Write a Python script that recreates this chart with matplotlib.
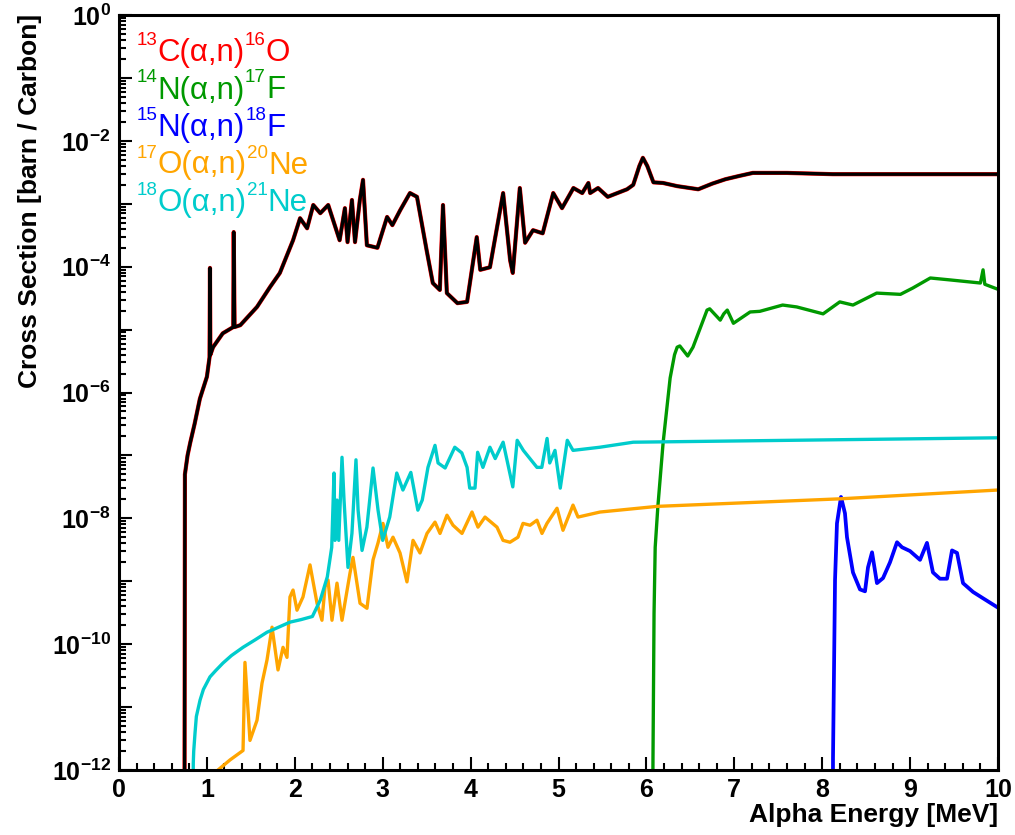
import numpy as np
import matplotlib
matplotlib.use("Agg")
import matplotlib.pyplot as plt
from matplotlib.ticker import LogLocator, FixedLocator, MultipleLocator, NullFormatter, FuncFormatter

plt.rcParams['font.family'] = ['Liberation Sans', 'DejaVu Sans']
plt.rcParams['mathtext.fontset'] = 'custom'
plt.rcParams['mathtext.rm'] = 'Liberation Sans'
plt.rcParams['mathtext.it'] = 'Liberation Sans:italic'
plt.rcParams['mathtext.bf'] = 'Liberation Sans:bold'

# ---------------- data (energy in MeV, log10 of cross section in barn/Carbon) ----------------
c13_e = [0.745, 0.75, 0.78, 0.81, 0.86, 0.92, 1.00, 1.03, 1.035, 1.04, 1.07, 1.18, 1.30, 1.305, 1.315,
         1.38, 1.57, 1.72, 1.83, 1.98, 2.06, 2.14, 2.21, 2.29, 2.38, 2.51, 2.57, 2.60, 2.65, 2.685,
         2.74, 2.776, 2.82, 2.94, 3.05, 3.11, 3.20, 3.31, 3.39, 3.50, 3.57, 3.65, 3.686, 3.73, 3.85,
         3.96, 4.07, 4.11, 4.22, 4.37, 4.45, 4.48, 4.56, 4.62, 4.71, 4.82, 4.94, 5.04, 5.17, 5.27,
         5.34, 5.36, 5.45, 5.56, 5.78, 5.85, 5.92, 5.96, 6.01, 6.08, 6.19, 6.35, 6.59, 6.75, 6.9,
         7.05, 7.21, 7.6, 8.12, 10.0]
c13_logxs = [-13.0, -7.3, -7.0, -6.8, -6.5, -6.1, -5.75, -5.44, -4.02, -5.4, -5.28, -5.06, -4.96, -3.45, -4.96,
             -4.93, -4.64, -4.32, -4.10, -3.58, -3.23, -3.39, -3.02, -3.15, -3.02, -3.58, -3.07, -3.61, -2.94, -3.61,
             -2.94, -2.62, -3.66, -3.70, -3.21, -3.34, -3.10, -2.83, -2.89, -3.74, -4.26, -4.37, -3.02, -4.42, -4.58,
             -4.56, -3.53, -4.05, -4.01, -2.83, -3.90, -4.10, -2.75, -3.62, -3.42, -3.47, -2.83, -3.07, -2.75, -2.83,
             -2.67, -2.83, -2.75, -2.89, -2.77, -2.70, -2.40, -2.27, -2.40, -2.66, -2.67, -2.72, -2.77, -2.68, -2.61,
             -2.56, -2.51, -2.51, -2.53, -2.53]

n14_e = [6.07, 6.075, 6.087, 6.10, 6.13, 6.19, 6.27, 6.32, 6.35, 6.38, 6.47, 6.53, 6.69, 6.72, 6.84,
         6.88, 6.92, 6.99, 7.18, 7.29, 7.55, 7.71, 8.01, 8.20, 8.35, 8.62, 8.89, 9.03, 9.23, 9.45,
         9.80, 9.83, 9.85, 10.0]
n14_logxs = [-13.0, -11.8, -9.51, -8.46, -7.82, -6.80, -5.77, -5.40, -5.28, -5.26, -5.42, -5.28, -4.69, -4.67, -4.85,
             -4.75, -4.69, -4.90, -4.72, -4.71, -4.61, -4.64, -4.75, -4.56, -4.61, -4.42, -4.44, -4.34, -4.18, -4.21,
             -4.26, -4.05, -4.28, -4.36]

n15_e = [8.12, 8.123, 8.146, 8.168, 8.214, 8.259, 8.282, 8.35, 8.43, 8.487, 8.521, 8.567, 8.623, 8.692,
         8.771, 8.851, 8.908, 8.999, 9.113, 9.192, 9.26, 9.34, 9.42, 9.477, 9.534, 9.602, 9.716, 9.829, 10.0]
n15_logxs = [-13.0, -11.8, -8.98, -8.08, -7.66, -7.92, -8.30, -8.86, -9.13, -9.16, -8.78, -8.54, -9.03, -8.95,
             -8.70, -8.38, -8.46, -8.52, -8.66, -8.39, -8.86, -8.96, -8.96, -8.51, -8.55, -9.03, -9.17, -9.27, -9.42]

o17_e = [1.10, 1.126, 1.263, 1.411, 1.433, 1.49, 1.57, 1.627, 1.684, 1.741, 1.809, 1.866, 1.911, 1.945, 1.98,
         2.025, 2.093, 2.173, 2.253, 2.309, 2.344, 2.378, 2.423, 2.48, 2.537, 2.628, 2.662, 2.742, 2.821, 2.89,
         2.947, 3.003, 3.06, 3.117, 3.197, 3.276, 3.345, 3.424, 3.504, 3.595, 3.652, 3.731, 3.80, 3.902, 4.016,
         4.084, 4.164, 4.30, 4.369, 4.448, 4.539, 4.596, 4.676, 4.755, 4.812, 4.869, 4.983, 5.051, 5.165, 5.222,
         5.472, 6.121, 8.203, 10.0]
o17_logxs = [-12.3, -12.0, -11.84, -11.69, -10.29, -11.53, -11.21, -10.62, -10.25, -9.73, -10.41, -10.05, -10.21, -9.25, -9.14,
             -9.46, -9.25, -8.74, -9.35, -9.62, -9.09, -8.98, -9.62, -9.03, -9.62, -8.87, -8.62, -9.35, -9.43, -8.66,
             -8.39, -8.08, -8.46, -8.30, -8.55, -9.01, -8.35, -8.55, -8.24, -8.06, -8.24, -7.95, -8.11, -8.24, -7.90,
             -8.14, -7.98, -8.14, -8.35, -8.38, -8.30, -8.08, -8.11, -8.03, -8.24, -8.08, -7.84, -8.19, -7.79, -7.98,
             -7.90, -7.81, -7.69, -7.55]

o18_e = [0.84, 0.845, 0.85, 0.865, 0.88, 0.922, 0.96, 1.035, 1.1, 1.183, 1.28, 1.411, 1.55, 1.684, 1.8,
         1.945, 2.07, 2.20, 2.29, 2.37, 2.42, 2.446, 2.457,
         2.48, 2.50, 2.537, 2.56, 2.605, 2.65, 2.696, 2.72, 2.765, 2.82, 2.89, 2.947, 3.00, 3.08, 3.16,
         3.23, 3.32, 3.40, 3.45, 3.515, 3.595, 3.63, 3.71, 3.82, 3.90, 3.96, 3.99, 4.05, 4.08, 4.14,
         4.22, 4.28, 4.37, 4.48, 4.53, 4.60, 4.755, 4.81, 4.87, 4.90, 4.96, 5.02, 5.10, 5.165, 5.47,
         5.85, 10.0]
o18_logxs = [-13.0, -11.89, -11.7, -11.41, -11.15, -10.89, -10.72, -10.52, -10.42, -10.30, -10.18, -10.05, -9.93, -9.81, -9.74,
             -9.65, -9.61, -9.56, -9.30, -8.93, -8.46, -7.28, -8.35,
             -7.71, -8.35, -7.03, -7.71, -8.78, -8.24, -7.07, -7.87, -8.51, -8.14, -7.20, -7.87, -8.35, -7.98, -7.28,
             -7.55, -7.27, -7.87, -7.71, -7.19, -6.84, -7.12, -7.20, -6.87, -6.96, -7.19, -7.52, -7.52, -6.95, -7.19,
             -6.87, -7.05, -6.79, -7.50, -6.76, -6.92, -7.19, -7.19, -6.73, -7.12, -6.92, -7.52, -6.76, -6.92, -6.87,
             -6.79, -6.72]

# legend labels: (text, is_superscript) pieces
legend_parts = [
    [("13", True), ("C(α,n)", False), ("16", True), ("O", False)],
    [("14", True), ("N(α,n)", False), ("17", True), ("F", False)],
    [("15", True), ("N(α,n)", False), ("18", True), ("F", False)],
    [("17", True), ("O(α,n)", False), ("20", True), ("Ne", False)],
    [("18", True), ("O(α,n)", False), ("21", True), ("Ne", False)],
]
legend_colors = ["#ff0000", "#009900", "#0000ff", "#ffa500", "#00cccc"]

x_label = "Alpha Energy [MeV]"
y_label = "Cross Section [barn / Carbon]"

# ---------------- figure ----------------
W, H = 1015, 835
fig = plt.figure(figsize=(W / 100, H / 100), dpi=100)
ax = fig.add_axes([119 / W, 1 - 770 / H, (998 - 119) / W, (770 - 15) / H])

lw = 2.4
ax.plot(c13_e, 10.0 ** np.array(c13_logxs), color=legend_colors[0], lw=lw + 0.6)
ax.plot(c13_e, 10.0 ** np.array(c13_logxs), color="black", lw=lw)
ax.plot(n14_e, 10.0 ** np.array(n14_logxs), color=legend_colors[1], lw=lw)
ax.plot(n15_e, 10.0 ** np.array(n15_logxs), color=legend_colors[2], lw=lw + 0.3)
ax.plot(o17_e, 10.0 ** np.array(o17_logxs), color=legend_colors[3], lw=lw)
ax.plot(o18_e, 10.0 ** np.array(o18_logxs), color=legend_colors[4], lw=lw)

ax.set_yscale('log')
ax.set_xlim(0, 10)
ax.set_ylim(1e-12, 1)

for s in ax.spines.values():
    s.set_linewidth(2.2)

ax.xaxis.set_major_locator(MultipleLocator(1))
ax.xaxis.set_minor_locator(MultipleLocator(0.2))
ax.yaxis.set_major_locator(FixedLocator([10.0 ** k for k in range(-12, 1)]))
ax.yaxis.set_minor_locator(LogLocator(base=10, subs=np.arange(2, 10), numticks=100))
ax.yaxis.set_minor_formatter(NullFormatter())


def yfmt(v, pos):
    k = int(round(np.log10(v)))
    if k % 2:
        return ""
    return r"$\mathbf{10^{%d}}$" % k


ax.yaxis.set_major_formatter(FuncFormatter(yfmt))
ax.xaxis.set_major_formatter(FuncFormatter(lambda v, p: "%d" % round(v)))

ax.tick_params(axis='both', which='both', direction='in', top=False, right=False, width=1.5)
ax.tick_params(axis='both', which='major', length=9.5)
ax.tick_params(axis='both', which='minor', length=5)
ax.tick_params(axis='x', which='major', pad=6, labelsize=18)
ax.tick_params(axis='y', which='major', pad=6, labelsize=18)
for t in ax.get_xticklabels():
    t.set_fontweight('bold')

fig.text(998 / W, 1 - 815 / H, x_label, ha='right', va='center', fontsize=19, fontweight='bold')
fig.text(30 / W, 1 - 14 / H, y_label, ha='center', va='top', rotation=90, fontsize=19, fontweight='bold')

renderer = fig.canvas.get_renderer()
baselines = [61, 98.5, 136, 173.5, 211]
for parts, col, b in zip(legend_parts, legend_colors, baselines):
    xpx = 137.0
    for txt, sup in parts:
        ypx = b - 16 if sup else b
        t = fig.text(xpx / W, 1 - ypx / H, txt, color=col, fontsize=13.5 if sup else 22.5,
                     ha='left', va='baseline')
        xpx += t.get_window_extent(renderer).width

fig.savefig("out.png", dpi=100)
